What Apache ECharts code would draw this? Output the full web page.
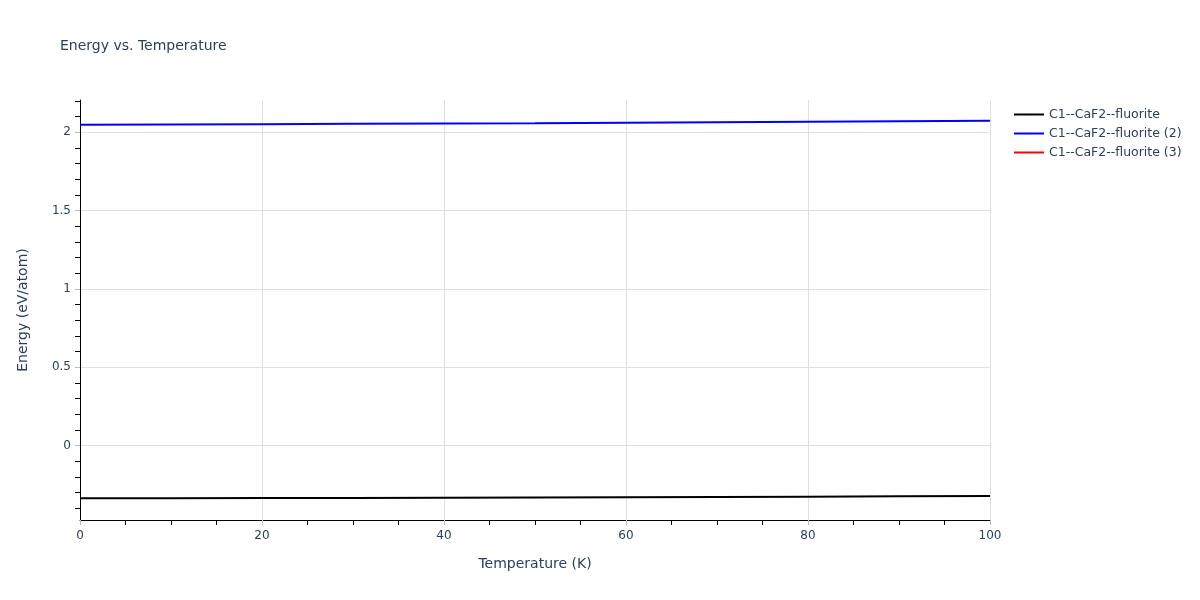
<!DOCTYPE html>
<html>
<head>
<meta charset="utf-8">
<script src="https://cdn.jsdelivr.net/npm/echarts@6/dist/echarts.min.js"></script>
<style>
  html, body { margin: 0; padding: 0; background: #fff; }
  #main { width: 1200px; height: 600px; }
</style>
</head>
<body>
<div id="main"></div>
<script>
var temps = [0, 10, 20, 30, 40, 50, 60, 70, 80, 90, 100];
var energy1 = [-0.336, -0.335, -0.334, -0.333, -0.332, -0.331, -0.329, -0.327, -0.325, -0.323, -0.321];
var energy2 = [2.048, 2.050, 2.052, 2.054, 2.056, 2.058, 2.061, 2.064, 2.067, 2.070, 2.073];
var energy3 = [];
var seriesNames = ['C1--CaF2--fluorite', 'C1--CaF2--fluorite (2)', 'C1--CaF2--fluorite (3)'];
var seriesColors = ['#000000', '#0000ff', '#ff0000'];
var yMajor = [0, 0.5, 1, 1.5, 2];
var yMinor = [-0.4, -0.3, -0.2, -0.1, 0.1, 0.2, 0.3, 0.4, 0.6, 0.7, 0.8, 0.9,
              1.1, 1.2, 1.3, 1.4, 1.6, 1.7, 1.8, 1.9, 2.1, 2.2];
var yMin = -0.474, yMax = 2.206;

function pairs(ys) {
    var out = [];
    for (var i = 0; i < ys.length; i++) out.push([temps[i], ys[i]]);
    return out;
}

var textColor = '#2a3f5f';
var font = 'DejaVu Sans';
var myChart = echarts.init(document.getElementById('main'));
var option = {
    animation: false,
    textStyle: { fontFamily: font },
    title: {
        text: 'Energy vs. Temperature',
        left: 55,
        top: 34,
        textStyle: { color: textColor, fontSize: 14, fontWeight: 'normal', fontFamily: font }
    },
    legend: {
        orient: 'vertical',
        left: 1008,
        top: 103,
        itemWidth: 30,
        itemHeight: 2,
        itemGap: 6,
        textStyle: { color: textColor, fontSize: 12.5, fontFamily: font },
        data: seriesNames
    },
    grid: { left: 80, right: 210, top: 100, bottom: 80 },
    xAxis: {
        type: 'value',
        min: 0,
        max: 100,
        interval: 20,
        name: 'Temperature (K)',
        nameLocation: 'middle',
        nameGap: 37,
        nameTextStyle: { color: textColor, fontSize: 14 },
        axisLine: { onZero: false, lineStyle: { color: '#000', width: 1 } },
        axisTick: { show: true, length: 5, lineStyle: { color: '#bbb' } },
        minorTick: { show: true, splitNumber: 4, length: 5, lineStyle: { color: '#000' } },
        axisLabel: { color: textColor, fontSize: 12, margin: 10 },
        splitLine: { show: true, lineStyle: { color: '#e0e0e0', width: 1 } }
    },
    yAxis: [{
        type: 'value',
        min: yMin,
        max: yMax,
        name: 'Energy (eV/atom)',
        nameLocation: 'middle',
        nameGap: 50,
        nameTextStyle: { color: textColor, fontSize: 14 },
        axisLine: { show: true, lineStyle: { color: '#000', width: 1 } },
        axisTick: { show: true, length: 5, customValues: yMajor, lineStyle: { color: '#bbb' } },
        axisLabel: { color: textColor, fontSize: 12, margin: 9, customValues: yMajor },
        splitLine: { show: true, customValues: yMajor, lineStyle: { color: '#e0e0e0', width: 1 } }
    }, {
        type: 'value',
        position: 'left',
        min: yMin,
        max: yMax,
        axisLine: { show: false },
        axisTick: { show: true, length: 5, customValues: yMinor, lineStyle: { color: '#000' } },
        axisLabel: { show: false, customValues: yMinor },
        splitLine: { show: false }
    }],
    series: [
        {
            name: seriesNames[0], type: 'line', symbol: 'none', data: pairs(energy1),
            lineStyle: { color: seriesColors[0], width: 2 }, itemStyle: { color: seriesColors[0] }
        },
        {
            name: seriesNames[1], type: 'line', symbol: 'none', data: pairs(energy2),
            lineStyle: { color: seriesColors[1], width: 2 }, itemStyle: { color: seriesColors[1] }
        },
        {
            name: seriesNames[2], type: 'line', symbol: 'none', data: energy3,
            lineStyle: { color: seriesColors[2], width: 2 }, itemStyle: { color: seriesColors[2] }
        }
    ]
};
myChart.setOption(option);
</script>
</body>
</html>
